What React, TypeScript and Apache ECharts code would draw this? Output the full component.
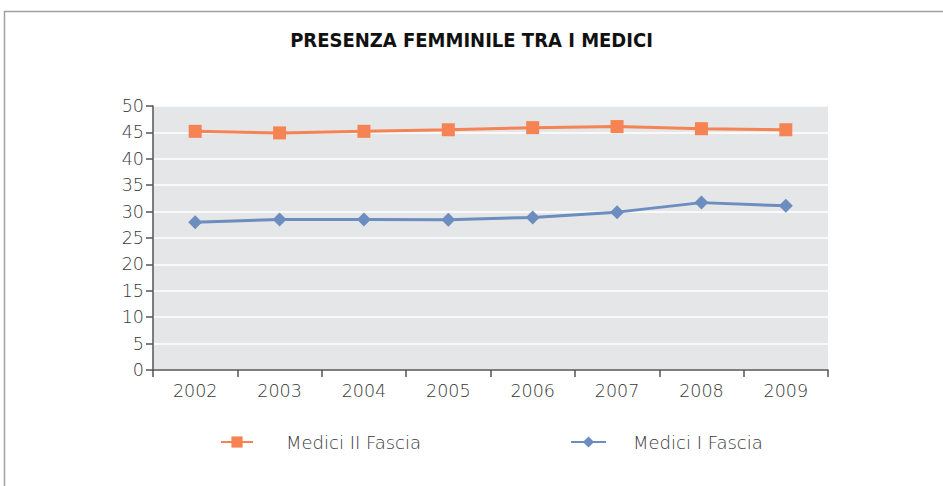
import React, { useEffect, useRef } from "react";
import * as echarts from "echarts";

const years = ["2002", "2003", "2004", "2005", "2006", "2007", "2008", "2009"];
const medici2Fascia = [45.2, 44.9, 45.2, 45.5, 45.9, 46.1, 45.7, 45.5];
const medici1Fascia = [28.0, 28.5, 28.5, 28.45, 28.9, 29.9, 31.7, 31.1];
const seriesNames = ["Medici II Fascia", "Medici I Fascia"];
const titleText = "PRESENZA FEMMINILE TRA I MEDICI";

const ORANGE = "#F58353";
const BLUE = "#6C8DBF";
const FONT = "DejaVu Sans";
const TEXT = "#383838";

export default function App() {
  const ref = useRef<HTMLDivElement>(null);
  useEffect(() => {
    document.body.style.margin = "0";
    const chart = echarts.init(ref.current!, null, { renderer: "svg" });
    chart.setOption({
      animation: false,
      backgroundColor: "#ffffff",
      title: {
        text: titleText,
        left: "center",
        top: 25,
        textStyle: {
          fontFamily: "DejaVu Sans Condensed",
          fontWeight: "bold",
          fontSize: 20,
          color: "#111",
        },
      },
      graphic: [
        {
          type: "rect",
          shape: { x: 4.5, y: 11.5, width: 960, height: 500 },
          style: { fill: "none", stroke: "#a0a0a0", lineWidth: 1.5 },
          silent: true,
        },
      ],
      legend: [
        {
          data: [seriesNames[0]],
          left: 220,
          top: 433,
          padding: 0,
          itemWidth: 32,
          itemHeight: 14,
          textStyle: { fontFamily: FONT, fontWeight: 200, fontSize: 18, color: TEXT, padding: [0, 0, 0, 28] },
        },
        {
          data: [seriesNames[1]],
          left: 570,
          top: 433,
          padding: 0,
          itemWidth: 35,
          itemHeight: 14,
          textStyle: { fontFamily: FONT, fontWeight: 200, fontSize: 18, color: TEXT, padding: [0, 0, 0, 22] },
        },
      ],
      grid: {
        left: 153,
        right: 115,
        top: 106,
        bottom: 116,
        show: true,
        backgroundColor: "#E5E6E8",
        borderWidth: 0,
      },
      xAxis: {
        type: "category",
        data: years,
        boundaryGap: true,
        axisLine: { show: true, lineStyle: { color: "#555", width: 1.5 } },
        axisTick: { show: true, length: 7, alignWithLabel: false, lineStyle: { color: "#555", width: 1.5 } },
        axisLabel: { fontFamily: FONT, fontWeight: 200, fontSize: 17.5, color: TEXT, margin: 12 },
        splitLine: { show: false },
      },
      yAxis: {
        type: "value",
        min: 0,
        max: 50,
        interval: 5,
        axisLine: { show: true, lineStyle: { color: "#555", width: 1.5 } },
        axisTick: { show: true, length: 7, lineStyle: { color: "#555", width: 1.5 } },
        axisLabel: { fontFamily: FONT, fontWeight: 200, fontSize: 17.5, color: TEXT, margin: 9 },
        splitLine: { show: true, lineStyle: { color: "#ffffff", width: 1.5 } },
      },
      series: [
        {
          name: seriesNames[0],
          type: "line",
          data: medici2Fascia,
          symbol: "rect",
          symbolSize: 13,
          lineStyle: { color: ORANGE, width: 3 },
          itemStyle: { color: ORANGE },
        },
        {
          name: seriesNames[1],
          type: "line",
          data: medici1Fascia,
          symbol: "diamond",
          symbolSize: 14,
          lineStyle: { color: BLUE, width: 3 },
          itemStyle: { color: BLUE },
        },
      ],
    });
    return () => chart.dispose();
  }, []);
  return <div ref={ref} style={{ position: "absolute", left: 0, top: 0, width: 943, height: 486 }} />;
}
